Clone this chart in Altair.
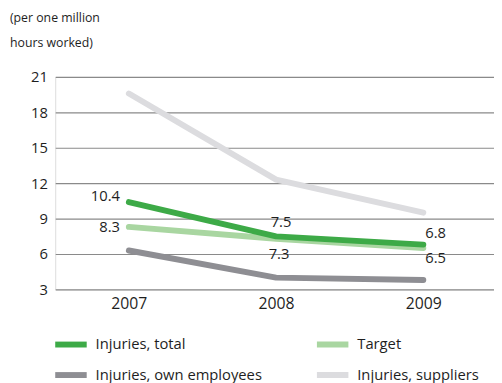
import altair as alt
import pandas as pd

years = [2007, 2008, 2009]
series_names = ["Injuries, total", "Target", "Injuries, own employees", "Injuries, suppliers"]
total = [10.4, 7.5, 6.8]
target = [8.3, 7.3, 6.5]
own = [6.3, 4.0, 3.8]
suppliers = [19.6, 12.3, 9.5]
y_ticks = [3, 6, 9, 12, 15, 18, 21]
colors = ["#3daa47", "#a9d6a1", "#8e8e93", "#dcdcdf"]

FONT = "Open Sans"
TXT = "#1e1e1e"

draw_order = [
    ("Injuries, suppliers", suppliers),
    ("Injuries, own employees", own),
    ("Target", target),
    ("Injuries, total", total),
]
rows = []
for i, (name, vals) in enumerate(draw_order):
    for yr, v in zip(years, vals):
        rows.append({"series": name, "year": yr, "value": v, "order": i})
df = pd.DataFrame(rows)

x_enc = alt.X(
    "year:Q",
    scale=alt.Scale(domain=[2006.5, 2009.48], nice=False, zero=False),
    axis=alt.Axis(values=years, format="d", grid=False, domain=False, ticks=False,
                  labelFontSize=16, labelPadding=6, labelColor=TXT, title=None),
)
y_enc = alt.Y(
    "value:Q",
    scale=alt.Scale(domain=[3, 21], nice=False, zero=False),
    axis=alt.Axis(values=y_ticks, grid=True, gridColor="#8a8a8a", gridWidth=1.2,
                  domain=False, ticks=False, labelPadding=8, labelFontSize=15,
                  labelColor=TXT, title=None, labelOverlap=False),
)

lines = alt.Chart(df).mark_line(strokeWidth=6, strokeCap="round", strokeJoin="round").encode(
    x=x_enc,
    y=y_enc,
    color=alt.Color(
        "series:N",
        scale=alt.Scale(domain=series_names, range=colors),
        legend=alt.Legend(
            title=None, orient="none", legendX=-3, legendY=253, columns=2,
            direction="horizontal", symbolType="stroke", symbolSize=1024,
            symbolStrokeWidth=6, labelFontSize=15, labelColor=TXT, labelFont=FONT,
            labelOffset=6, rowPadding=-7, columnPadding=43, labelLimit=300,
        ),
    ),
    detail="series:N",
    order="order:Q",
)

# label placements: (series, year, align, dx, dy)
label_specs = [
    ("Injuries, total", 2007, "right", -9, -6),
    ("Target", 2007, "right", -9, 0),
    ("Injuries, total", 2008, "center", 5, -14),
    ("Target", 2008, "center", 3, 16),
    ("Injuries, total", 2009, "left", 2, -12),
    ("Target", 2009, "left", 2, 10),
]
label_layers = []
for s, yr, al, dx, dy in label_specs:
    label_layers.append(
        alt.Chart(df).transform_filter(
            (alt.datum.series == s) & (alt.datum.year == yr)
        ).mark_text(align=al, baseline="middle", dx=dx, dy=dy, fontSize=15,
                    font=FONT, color=TXT).encode(
            x=x_enc, y=y_enc,
            text=alt.Text("value:Q", format=".1f"),
        )
    )

chart = alt.layer(lines, *label_layers).properties(
    width=446,
    height=216,
    autosize=alt.AutoSizeParams(type="none"),
    padding={"left": 48, "top": 67, "right": 0, "bottom": 92},
    title=alt.Title(["(per one million", "hours worked)"], anchor="start", frame="group",
                    dx=-46, fontSize=12.5, fontWeight="normal", color=TXT, lineHeight=25,
                    offset=21, font=FONT),
).configure_view(stroke=None).configure(font=FONT)

chart.save("out.html", embed_options={"renderer": "svg", "actions": False})
